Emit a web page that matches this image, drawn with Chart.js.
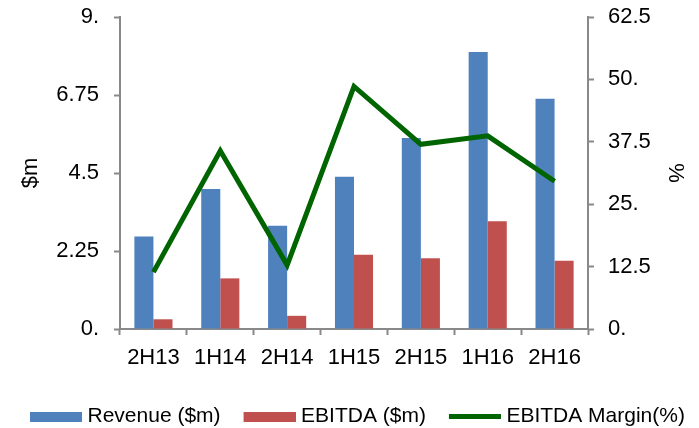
<!DOCTYPE html>
<html>
<head>
<meta charset="utf-8">
<script src="https://cdn.jsdelivr.net/npm/chart.js@4/dist/chart.umd.min.js"></script>
<style>
  html, body { margin: 0; padding: 0; background: #fff; }
  #wrap { width: 699px; height: 428px; }
</style>
</head>
<body>
<div id="wrap"><canvas id="c" width="699" height="428"></canvas></div>
<script>
// Half-year periods
const periods = ['2H13', '1H14', '2H14', '1H15', '2H15', '1H16', '2H16'];
// Revenue and EBITDA in $m (left axis)
const revenue = [2.67, 4.04, 2.98, 4.39, 5.51, 7.99, 6.64];
const ebitda = [0.28, 1.46, 0.38, 2.14, 2.04, 3.11, 1.97];
// EBITDA margin in % (right axis)
const margin = [11.4, 35.7, 12.8, 48.6, 37.0, 38.7, 29.6];
// Axis tick labels
const leftTickLabels = ['0.', '2.25', '4.5', '6.75', '9.'];
const rightTickLabels = ['0.', '12.5', '25.', '37.5', '50.', '62.5'];

const BLUE = '#4F81BD';
const RED = '#C0504D';
const GREEN = '#006400';
const AXIS = '#898989';
const FONT = "'Liberation Sans', Arial, sans-serif";

// Legend swatches: transparent lead-in on the left gives the space between
// entries, the coloured part sits at the right so the label follows closely.
function swatch(color, h) {
  const cv = document.createElement('canvas');
  cv.width = 70; cv.height = 11;
  const g = cv.getContext('2d');
  g.fillStyle = color;
  g.fillRect(18, Math.round((11 - h) / 2), 52, h);
  return cv;
}
const swatches = [swatch(BLUE, 10), swatch(RED, 10), swatch(GREEN, 5)];

// Vertical axes: fixed width, no extra room reserved above the top tick label
function fixWidth(w) {
  return (s) => { s.width = w; s.paddingTop = 0; s.paddingBottom = 0; };
}

new Chart(document.getElementById('c'), {
  data: {
    labels: periods,
    datasets: [
      { type: 'bar', label: 'Revenue ($m)', data: revenue, backgroundColor: BLUE, yAxisID: 'y', order: 1 },
      { type: 'bar', label: 'EBITDA ($m)', data: ebitda, backgroundColor: RED, yAxisID: 'y', order: 1 },
      { type: 'line', label: 'EBITDA Margin(%)', data: margin, borderColor: GREEN, backgroundColor: GREEN,
        borderWidth: 5, pointRadius: 0, tension: 0, yAxisID: 'y1', order: 0 }
    ]
  },
  options: {
    responsive: false,
    animation: false,
    events: [],
    layout: { padding: { top: 17, left: 7, right: 0, bottom: -9 } },
    datasets: { bar: { categoryPercentage: 0.57, barPercentage: 1.0 } },
    plugins: {
      tooltip: { enabled: false },
      legend: {
        position: 'bottom',
        align: 'start',
        labels: {
          usePointStyle: true,
          pointStyleWidth: 60,
          padding: 10,
          color: '#000',
          font: { family: FONT, size: 21 },
          generateLabels: (chart) => chart.data.datasets.map((ds, i) => ({
            text: ds.label,
            pointStyle: swatches[i],
            fillStyle: ds.backgroundColor,
            strokeStyle: ds.backgroundColor,
            lineWidth: 0,
            fontColor: '#000',
            hidden: false,
            datasetIndex: i
          }))
        }
      }
    },
    scales: {
      x: {
        offset: true,
        grid: { display: true, drawOnChartArea: false, offset: true, tickLength: 6, color: AXIS, tickWidth: 2 },
        border: { display: true, color: AXIS, width: 2 },
        ticks: { color: '#000', font: { family: FONT, size: 22 }, padding: 10, maxRotation: 0 },
        afterFit: (s) => { s.height = 67; }
      },
      y: {
        position: 'left',
        min: 0, max: 9,
        ticks: {
          stepSize: 2.25,
          color: '#000',
          padding: 15,
          font: { family: FONT, size: 22 },
          callback: (v, i) => leftTickLabels[i]
        },
        grid: { drawOnChartArea: false, tickLength: 6, color: AXIS, tickWidth: 2 },
        border: { display: true, color: AXIS, width: 2 },
        title: { display: true, text: '$m', color: '#000', font: { family: FONT, size: 22 }, padding: { top: 11, bottom: 0 } },
        afterFit: fixWidth(113)
      },
      y1: {
        position: 'right',
        min: 0, max: 62.5,
        ticks: {
          stepSize: 12.5,
          color: '#000',
          padding: 14,
          font: { family: FONT, size: 22 },
          callback: (v, i) => rightTickLabels[i]
        },
        grid: { drawOnChartArea: false, tickLength: 6, color: AXIS, tickWidth: 2 },
        border: { display: true, color: AXIS, width: 2 },
        title: { display: true, text: '%', color: '#000', font: { family: FONT, size: 22 }, padding: { top: 11, bottom: 0 } },
        afterFit: fixWidth(111)
      }
    }
  }
});
</script>
</body>
</html>
